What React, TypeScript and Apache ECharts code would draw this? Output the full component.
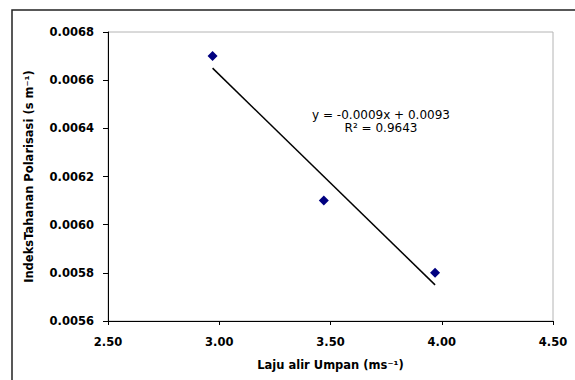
import React, { useEffect, useRef } from "react";
import * as echarts from "echarts";

const flowRates = [2.97, 3.47, 3.97];
const resistanceIndex = [0.0067, 0.0061, 0.0058];
const xTicks = { min: 2.5, max: 4.5, interval: 0.5 };
const yTicks = { min: 0.0056, max: 0.0068, interval: 0.0002 };
const equationText = "y = -0.0009x + 0.0093";
const r2Text = "R² = 0.9643";
const xTitle = "Laju alir Umpan (ms⁻¹)";
const yTitle = "IndeksTahanan Polarisasi (s m⁻¹)";

function linearFit(xs: number[], ys: number[]) {
  const n = xs.length;
  const mx = xs.reduce((a, b) => a + b, 0) / n;
  const my = ys.reduce((a, b) => a + b, 0) / n;
  let sxy = 0;
  let sxx = 0;
  for (let i = 0; i < n; i++) {
    sxy += (xs[i] - mx) * (ys[i] - my);
    sxx += (xs[i] - mx) * (xs[i] - mx);
  }
  const slope = sxy / sxx;
  return { slope, intercept: my - slope * mx };
}

export default function App() {
  const ref = useRef<HTMLDivElement>(null);
  useEffect(() => {
    if (!ref.current) return;
    const chart = echarts.init(ref.current, null, { renderer: "svg" });
    const fit = linearFit(flowRates, resistanceIndex);
    const xMin = Math.min(...flowRates);
    const xMax = Math.max(...flowRates);
    const trend = [
      [xMin, fit.slope * xMin + fit.intercept],
      [xMax, fit.slope * xMax + fit.intercept],
    ];
    const font = "DejaVu Sans";
    chart.setOption({
      animation: false,
      backgroundColor: "#ffffff",
      textStyle: { fontFamily: font },
      grid: {
        left: 108,
        top: 32,
        right: 22,
        bottom: 59,
        show: true,
        borderColor: "#b4b4b4",
        borderWidth: 1,
        backgroundColor: "#ffffff",
      },
      xAxis: {
        type: "value",
        min: xTicks.min,
        max: xTicks.max,
        interval: xTicks.interval,
        splitLine: { show: false },
        axisLine: { show: true, onZero: false, lineStyle: { color: "#000", width: 1 } },
        axisTick: { show: true, inside: false, length: 4, lineStyle: { color: "#000" } },
        axisLabel: {
          margin: 15,
          color: "#000",
          fontWeight: "bold",
          fontSize: 11.5,
          fontFamily: font,
          formatter: (v: number) => v.toFixed(2),
        },
        name: xTitle,
        nameLocation: "middle",
        nameGap: 38,
        nameTextStyle: { color: "#000", fontWeight: "bold", fontSize: 11.5, fontFamily: font },
      },
      yAxis: {
        type: "value",
        min: yTicks.min,
        max: yTicks.max,
        interval: yTicks.interval,
        splitLine: { show: false },
        axisLine: { show: true, onZero: false, lineStyle: { color: "#000", width: 1 } },
        axisTick: { show: true, inside: false, length: 5, lineStyle: { color: "#000" } },
        axisLabel: {
          margin: 14,
          color: "#000",
          fontWeight: "bold",
          fontSize: 11.5,
          fontFamily: font,
          formatter: (v: number) => v.toFixed(4),
        },
        name: yTitle,
        nameLocation: "middle",
        nameGap: 73,
        nameTextStyle: { color: "#000", fontWeight: "bold", fontSize: 11.5, fontFamily: font },
      },
      series: [
        {
          type: "line",
          data: trend,
          symbol: "none",
          lineStyle: { color: "#000", width: 1.5 },
          z: 2,
        },
        {
          type: "scatter",
          data: flowRates.map((x, i) => [x, resistanceIndex[i]]),
          symbol: "diamond",
          symbolSize: [10, 10],
          itemStyle: { color: "#000080", opacity: 1 },
          z: 3,
        },
      ],
      graphic: [
        {
          type: "rect",
          shape: { x: 12, y: 10, width: 620, height: 420 },
          style: { fill: "none", stroke: "#222", lineWidth: 1.5 },
          silent: true,
          z: 10,
        },
        {
          type: "text",
          x: 381,
          y: 115,
          style: {
            text: equationText,
            fontFamily: font,
            fontSize: 12,
            fill: "#000",
            textAlign: "center",
            textVerticalAlign: "middle",
          },
          z: 10,
        },
        {
          type: "text",
          x: 381,
          y: 128,
          style: {
            text: r2Text,
            fontFamily: font,
            fontSize: 12,
            fill: "#000",
            textAlign: "center",
            textVerticalAlign: "middle",
          },
          z: 10,
        },
      ],
    });
    return () => chart.dispose();
  }, []);
  return <div ref={ref} style={{ width: 575, height: 380, position: "absolute", left: 0, top: 0 }} />;
}
